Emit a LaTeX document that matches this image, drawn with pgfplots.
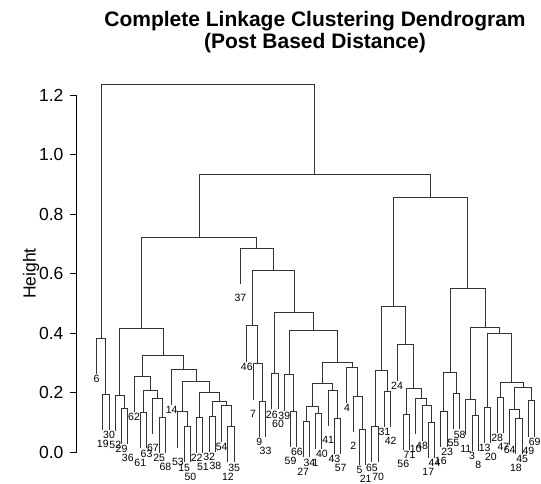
\documentclass[border=0pt]{standalone}
\usepackage{pgfplots}
\pgfplotsset{compat=1.18}
\usepackage{fontspec}
\setmainfont{Liberation Sans}

\pgfplotstableread{
x y
1.75 0.382
1.75 1.234
35.878 1.234
35.878 0.934
nan nan
1 0.262
1 0.382
2.5 0.382
2.5 0.194
nan nan
2 0.074
2 0.194
3 0.194
3 0.074
nan nan
5 0.027
5 0.147
6 0.147
6 0.027
nan nan
4 0.07
4 0.19
5.5 0.19
5.5 0.147
nan nan
8 0.012
8 0.132
9 0.132
9 0.012
nan nan
11 -0.004
11 0.116
12 0.116
12 -0.004
nan nan
10 0.06
10 0.18
11.5 0.18
11.5 0.116
nan nan
8.5 0.132
8.5 0.207
10.75 0.207
10.75 0.18
nan nan
7 0.134
7 0.254
9.625 0.254
9.625 0.207
nan nan
15 -0.035
15 0.085
16 0.085
16 -0.035
nan nan
14 0.015
14 0.135
15.5 0.135
15.5 0.085
nan nan
17 -0.003
17 0.117
18 0.117
18 -0.003
nan nan
19 0.001
19 0.121
20 0.121
20 0.001
nan nan
22 -0.035
22 0.085
23 0.085
23 -0.035
nan nan
21 0.035
21 0.155
22.5 0.155
22.5 0.085
nan nan
19.5 0.121
19.5 0.169
21.75 0.169
21.75 0.155
nan nan
17.5 0.117
17.5 0.2
20.625 0.2
20.625 0.169
nan nan
14.75 0.135
14.75 0.236
19.0625 0.236
19.0625 0.2
nan nan
13 0.158
13 0.278
16.9063 0.278
16.9063 0.236
nan nan
8.3125 0.254
8.3125 0.325
14.9531 0.325
14.9531 0.278
nan nan
4.75 0.19
4.75 0.416
11.6328 0.416
11.6328 0.325
nan nan
27 0.05
27 0.17
28 0.17
28 0.05
nan nan
26 0.176
26 0.296
27.5 0.296
27.5 0.17
nan nan
25 0.304
25 0.424
26.75 0.424
26.75 0.296
nan nan
29 0.143
29 0.263
30 0.263
30 0.143
nan nan
32 0.017
32 0.137
33 0.137
33 0.017
nan nan
31 0.139
31 0.259
32.5 0.259
32.5 0.137
nan nan
34 -0.018
34 0.102
35 0.102
35 -0.018
nan nan
36 0.01
36 0.13
37 0.13
37 0.01
nan nan
34.5 0.102
34.5 0.152
36.5 0.152
36.5 0.13
nan nan
39 -0.007
39 0.113
40 0.113
40 -0.007
nan nan
38 0.088
38 0.208
39.5 0.208
39.5 0.113
nan nan
35.5 0.152
35.5 0.23
38.75 0.23
38.75 0.208
nan nan
43 -0.044
43 0.076
44 0.076
44 -0.044
nan nan
42 0.067
42 0.187
43.5 0.187
43.5 0.076
nan nan
41 0.164
41 0.284
42.75 0.284
42.75 0.187
nan nan
37.125 0.23
37.125 0.302
41.875 0.302
41.875 0.284
nan nan
31.75 0.259
31.75 0.408
39.5 0.408
39.5 0.302
nan nan
29.5 0.263
29.5 0.468
35.625 0.468
35.625 0.408
nan nan
25.875 0.424
25.875 0.61
32.5625 0.61
32.5625 0.468
nan nan
24 0.565
24 0.685
29.2188 0.685
29.2188 0.61
nan nan
8.1914 0.416
8.1914 0.72
26.6094 0.72
26.6094 0.685
nan nan
45 -0.035
45 0.085
46 0.085
46 -0.035
nan nan
47 0.084
47 0.204
48 0.204
48 0.084
nan nan
45.5 0.085
45.5 0.273
47.5 0.273
47.5 0.204
nan nan
50 0.007
50 0.127
51 0.127
51 0.007
nan nan
54 -0.021
54 0.099
55 0.099
55 -0.021
nan nan
53 0.036
53 0.156
54.5 0.156
54.5 0.099
nan nan
52 0.059
52 0.179
53.75 0.179
53.75 0.156
nan nan
50.5 0.127
50.5 0.214
52.875 0.214
52.875 0.179
nan nan
49 0.24
49 0.36
51.6875 0.36
51.6875 0.214
nan nan
46.5 0.273
46.5 0.49
50.3438 0.49
50.3438 0.36
nan nan
56 0.017
56 0.137
57 0.137
57 0.017
nan nan
58 0.076
58 0.196
59 0.196
59 0.076
nan nan
56.5 0.137
56.5 0.268
58.5 0.268
58.5 0.196
nan nan
61 0.004
61 0.124
62 0.124
62 0.004
nan nan
60 0.057
60 0.177
61.5 0.177
61.5 0.124
nan nan
63 0.031
63 0.151
64 0.151
64 0.031
nan nan
65 0.064
65 0.184
66 0.184
66 0.064
nan nan
68 -0.007
68 0.113
69 0.113
69 -0.007
nan nan
67 0.024
67 0.144
68.5 0.144
68.5 0.113
nan nan
70 0.052
70 0.172
71 0.172
71 0.052
nan nan
67.75 0.144
67.75 0.217
70.5 0.217
70.5 0.172
nan nan
65.5 0.184
65.5 0.233
69.125 0.233
69.125 0.217
nan nan
63.5 0.151
63.5 0.399
67.3125 0.399
67.3125 0.233
nan nan
60.75 0.177
60.75 0.419
65.4063 0.419
65.4063 0.399
nan nan
57.5 0.268
57.5 0.55
63.0781 0.55
63.0781 0.419
nan nan
48.4219 0.49
48.4219 0.857
60.2891 0.857
60.2891 0.55
nan nan
17.4004 0.72
17.4004 0.934
54.3555 0.934
54.3555 0.857
}\segs

\pgfplotstableread{
x y lab
1 0.245 6
2 0.027 19
3 0.057 30
4 0.023 52
5 0.010 29
6 -0.020 36
7 0.117 62
8 -0.035 61
9 -0.005 63
10 0.013 67
11 -0.021 25
12 -0.051 68
13 0.141 14
14 -0.032 53
15 -0.052 15
16 -0.082 50
17 -0.020 22
18 -0.050 51
19 -0.016 32
20 -0.046 38
21 0.018 54
22 -0.082 12
23 -0.052 35
24 0.518 37
25 0.287 46
26 0.129 7
27 0.033 9
28 0.003 33
29 0.126 26
30 0.096 60
31 0.122 39
32 -0.030 59
33 0.000 66
34 -0.065 27
35 -0.035 34
36 -0.037 1
37 -0.007 40
38 0.041 41
39 -0.024 43
40 -0.054 57
41 0.147 4
42 0.020 2
43 -0.061 5
44 -0.089 21
45 -0.052 65
46 -0.082 70
47 0.067 31
48 0.037 42
49 0.223 24
50 -0.040 56
51 -0.010 71
52 0.012 10
53 0.019 48
54 -0.068 17
55 -0.038 44
56 -0.030 16
57 0.000 23
58 0.029 55
59 0.059 58
60 0.010 11
61 -0.013 3
62 -0.043 8
63 0.014 13
64 -0.016 20
65 0.047 28
66 0.017 47
67 0.007 64
68 -0.054 18
69 -0.024 45
70 0.005 49
71 0.035 69
}\labs

\begin{document}
\begin{tikzpicture}[x=1pt,y=1pt]
\useasboundingbox (-77,-31) rectangle (464,452);
\begin{axis}[
  at={(0,0)}, anchor=south west,
  scale only axis, width=464pt, height=357pt,
  xmin=-2.115, xmax=72.0, ymin=0, ymax=1.2,
  clip=false,
  hide x axis,
  axis y line*=left,
  y axis line style={black, line width=1pt},
  ytick={0,0.2,0.4,0.6,0.8,1.0,1.2},
  ytick style={black, line width=1pt},
  tick align=outside, major tick length=7pt,
  /pgf/number format/assume math mode=true,
  yticklabel style={font=\fontsize{17.5}{20}\selectfont, xshift=-3pt,
    /pgf/number format/fixed, /pgf/number format/fixed zerofill,
    /pgf/number format/precision=1},
  ylabel={Height},
  ylabel style={font=\fontsize{17.5}{20}\selectfont, at={(rel axis cs:0,0.5)}, anchor=center, yshift=46pt},
]
\addplot[black!80, line width=1pt, mark=none, unbounded coords=jump] table[x=x,y=y] {\segs};
\addplot[only marks, mark=none, nodes near coords, point meta=explicit symbolic,
  nodes near coords style={anchor=center, inner sep=0pt, font=\fontsize{10.5}{12}\selectfont, text=black}]
  table[x=x,y=y,meta=lab] {\labs};
\end{axis}
\node[anchor=base, font=\bfseries\fontsize{21}{24}\selectfont] at (238,425) {Complete Linkage Clustering Dendrogram};
\node[anchor=base, font=\bfseries\fontsize{21}{24}\selectfont] at (238,403) {(Post Based Distance)};
\end{tikzpicture}
\end{document}
